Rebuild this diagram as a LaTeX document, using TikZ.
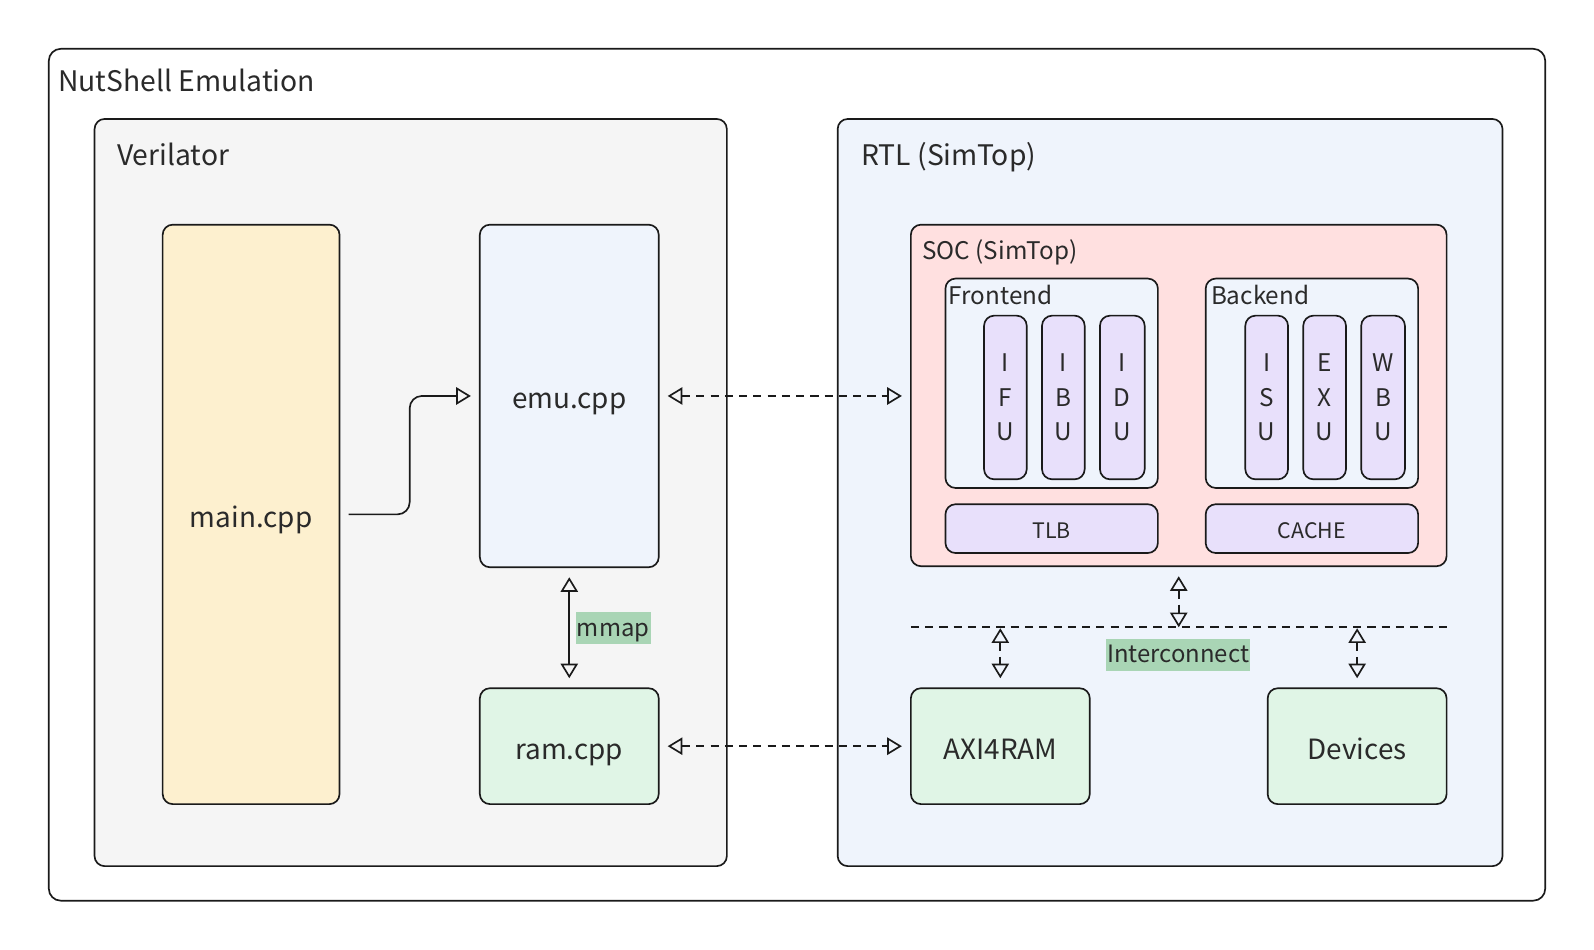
\documentclass[tikz,border=0pt]{standalone}
\usepackage{fontspec}
\setmainfont{Noto Sans CJK SC}
\usetikzlibrary{arrows.meta}
\newcommand\pxx[1]{#1*0.7624pt}
\definecolor{linec}{HTML}{1A1A1A}
\definecolor{textc}{HTML}{2A2A2A}
\definecolor{grayf}{HTML}{F5F5F5}
\definecolor{bluef}{HTML}{EFF4FC}
\definecolor{yellowf}{HTML}{FDF0CF}
\definecolor{greenf}{HTML}{E0F5E6}
\definecolor{redf}{HTML}{FFE0E0}
\definecolor{purplef}{HTML}{E8E0FB}
\definecolor{labelf}{HTML}{A9D5B5}
\begin{document}
\begin{tikzpicture}[x=0.7624pt,y=-0.7624pt,
  box/.style={draw=linec, line width=1.25pt, rounded corners=7.6pt, inner sep=0pt, text=textc},
  bigtxt/.style={font=\fontsize{20.9pt}{25pt}\selectfont, text height=22pt, text depth=2.6pt},
  titletxt/.style={font=\fontsize{21.2pt}{25pt}\selectfont},
  midtxt/.style={font=\fontsize{18.2pt}{25.9pt}\selectfont},
  smalltxt/.style={font=\fontsize{16pt}{20pt}\selectfont, text height=16pt, text depth=1.8pt},
  title/.style={anchor=base west, inner sep=0pt, text=textc},
  unit/.style={box, fill=purplef, midtxt, align=center, minimum width=\pxx{42}, minimum height=\pxx{161}},
  tip/.tip={Triangle[open,length=11pt,width=13pt]},
  conn/.style={draw=linec, line width=1.25pt, tip-tip},
  dsh/.style={dash pattern=on 6.1pt off 4.6pt},
  tag/.style={fill=labelf, text=textc, font=\fontsize{17.9pt}{22pt}\selectfont, text height=17pt, text depth=5pt, inner xsep=1pt, inner ysep=1pt}
]
\useasboundingbox (0,0) rectangle (1568,934.5);
\fill[white] (0,0) rectangle (1568,934.5);
% containers
\node[box, fill=white, rounded corners=9pt, minimum width=\pxx{1472}, minimum height=\pxx{838}] (outer) at (784,467) {};
\node[title, titletxt] (outert) at (57,90) {NutShell Emulation};
\node[box, fill=grayf, minimum width=\pxx{622}, minimum height=\pxx{735}] (veri) at (404,484.5) {};
\node[title, titletxt] (verit) at (115,163) {Verilator};
\node[box, fill=bluef, minimum width=\pxx{654}, minimum height=\pxx{735}] (rtl) at (1151,484.5) {};
\node[title, titletxt] (rtlt) at (847,163) {RTL (SimTop)};
% verilator nodes
\node[box, fill=yellowf, bigtxt, minimum width=\pxx{174}, minimum height=\pxx{570}] (main) at (247,506) {main.cpp};
\node[box, fill=bluef, bigtxt, minimum width=\pxx{176}, minimum height=\pxx{337}] (emu) at (560,389.5) {emu.cpp};
\node[box, fill=greenf, bigtxt, minimum width=\pxx{176}, minimum height=\pxx{114}] (ram) at (560,734) {ram.cpp};
% SOC
\node[box, fill=redf, minimum width=\pxx{527}, minimum height=\pxx{336}] (soc) at (1159.5,389) {};
\node[title, midtxt] (soct) at (907,255) {SOC (SimTop)};
\node[box, fill=bluef, minimum width=\pxx{209}, minimum height=\pxx{206}] (front) at (1034.5,377) {};
\node[title, midtxt] (frontt) at (933,300) {Frontend};
\node[box, fill=bluef, minimum width=\pxx{209}, minimum height=\pxx{206}] (back) at (1290.5,377) {};
\node[title, midtxt] (backt) at (1191,300) {Backend};
\node[unit] (ifu) at (989,391) {I\\F\\U};
\node[unit] (ibu) at (1046,391) {I\\B\\U};
\node[unit, minimum width=\pxx{44}] (idu) at (1104,391) {I\\D\\U};
\node[unit] (isu) at (1246,391) {I\\S\\U};
\node[unit] (exu) at (1303,391) {E\\X\\U};
\node[unit, minimum width=\pxx{43}] (wbu) at (1360.5,391) {W\\B\\U};
\node[box, fill=purplef, smalltxt, minimum width=\pxx{209}, minimum height=\pxx{48}] (tlb) at (1034.5,520) {TLB};
\node[box, fill=purplef, smalltxt, minimum width=\pxx{209}, minimum height=\pxx{48}] (cache) at (1290.5,520) {CACHE};
% bottom
\node[box, fill=greenf, bigtxt, minimum width=\pxx{176}, minimum height=\pxx{114}] (axi) at (984,734) {AXI4RAM};
\node[box, fill=greenf, bigtxt, minimum width=\pxx{176}, minimum height=\pxx{114}] (dev) at (1335,734) {Devices};
% interconnect
\coordinate (icl) at (896,617);
\coordinate (icr) at (1423,617);
\draw[draw=linec, line width=1.25pt, dsh] (icl) -- (icr);
\node[tag] (ict) at (1159,644) {Interconnect};
\coordinate (icsoc) at (soc.south |- icl);
\coordinate (icaxi) at (axi.north |- icl);
\coordinate (icdev) at (dev.north |- icl);
\draw[conn, dsh, shorten <=\pxx{9}] (soc.south) -- (icsoc);
\draw[conn, dsh, shorten <=\pxx{1}, shorten >=\pxx{9}] (icaxi) -- (axi.north);
\draw[conn, dsh, shorten <=\pxx{1}, shorten >=\pxx{9}] (icdev) -- (dev.north);
% connectors
\draw[conn, dsh, shorten <=\pxx{8}, shorten >=\pxx{8}] (emu.east) -- (emu.east -| soc.west);
\draw[conn, dsh, shorten <=\pxx{8}, shorten >=\pxx{8}] (ram.east) -- (axi.west);
\draw[conn, shorten <=\pxx{9}, shorten >=\pxx{9}] (emu.south) -- (ram.north);
\node[tag, anchor=west] (mmap) at (566,618) {mmap};
\coordinate (bend) at (403,448);
\draw[draw=linec, line width=1.25pt, rounded corners=\pxx{12}, -tip] ([xshift=\pxx{8}]main.east) -| (bend) |- ([xshift=-\pxx{8}]emu.west);
\end{tikzpicture}
\end{document}
